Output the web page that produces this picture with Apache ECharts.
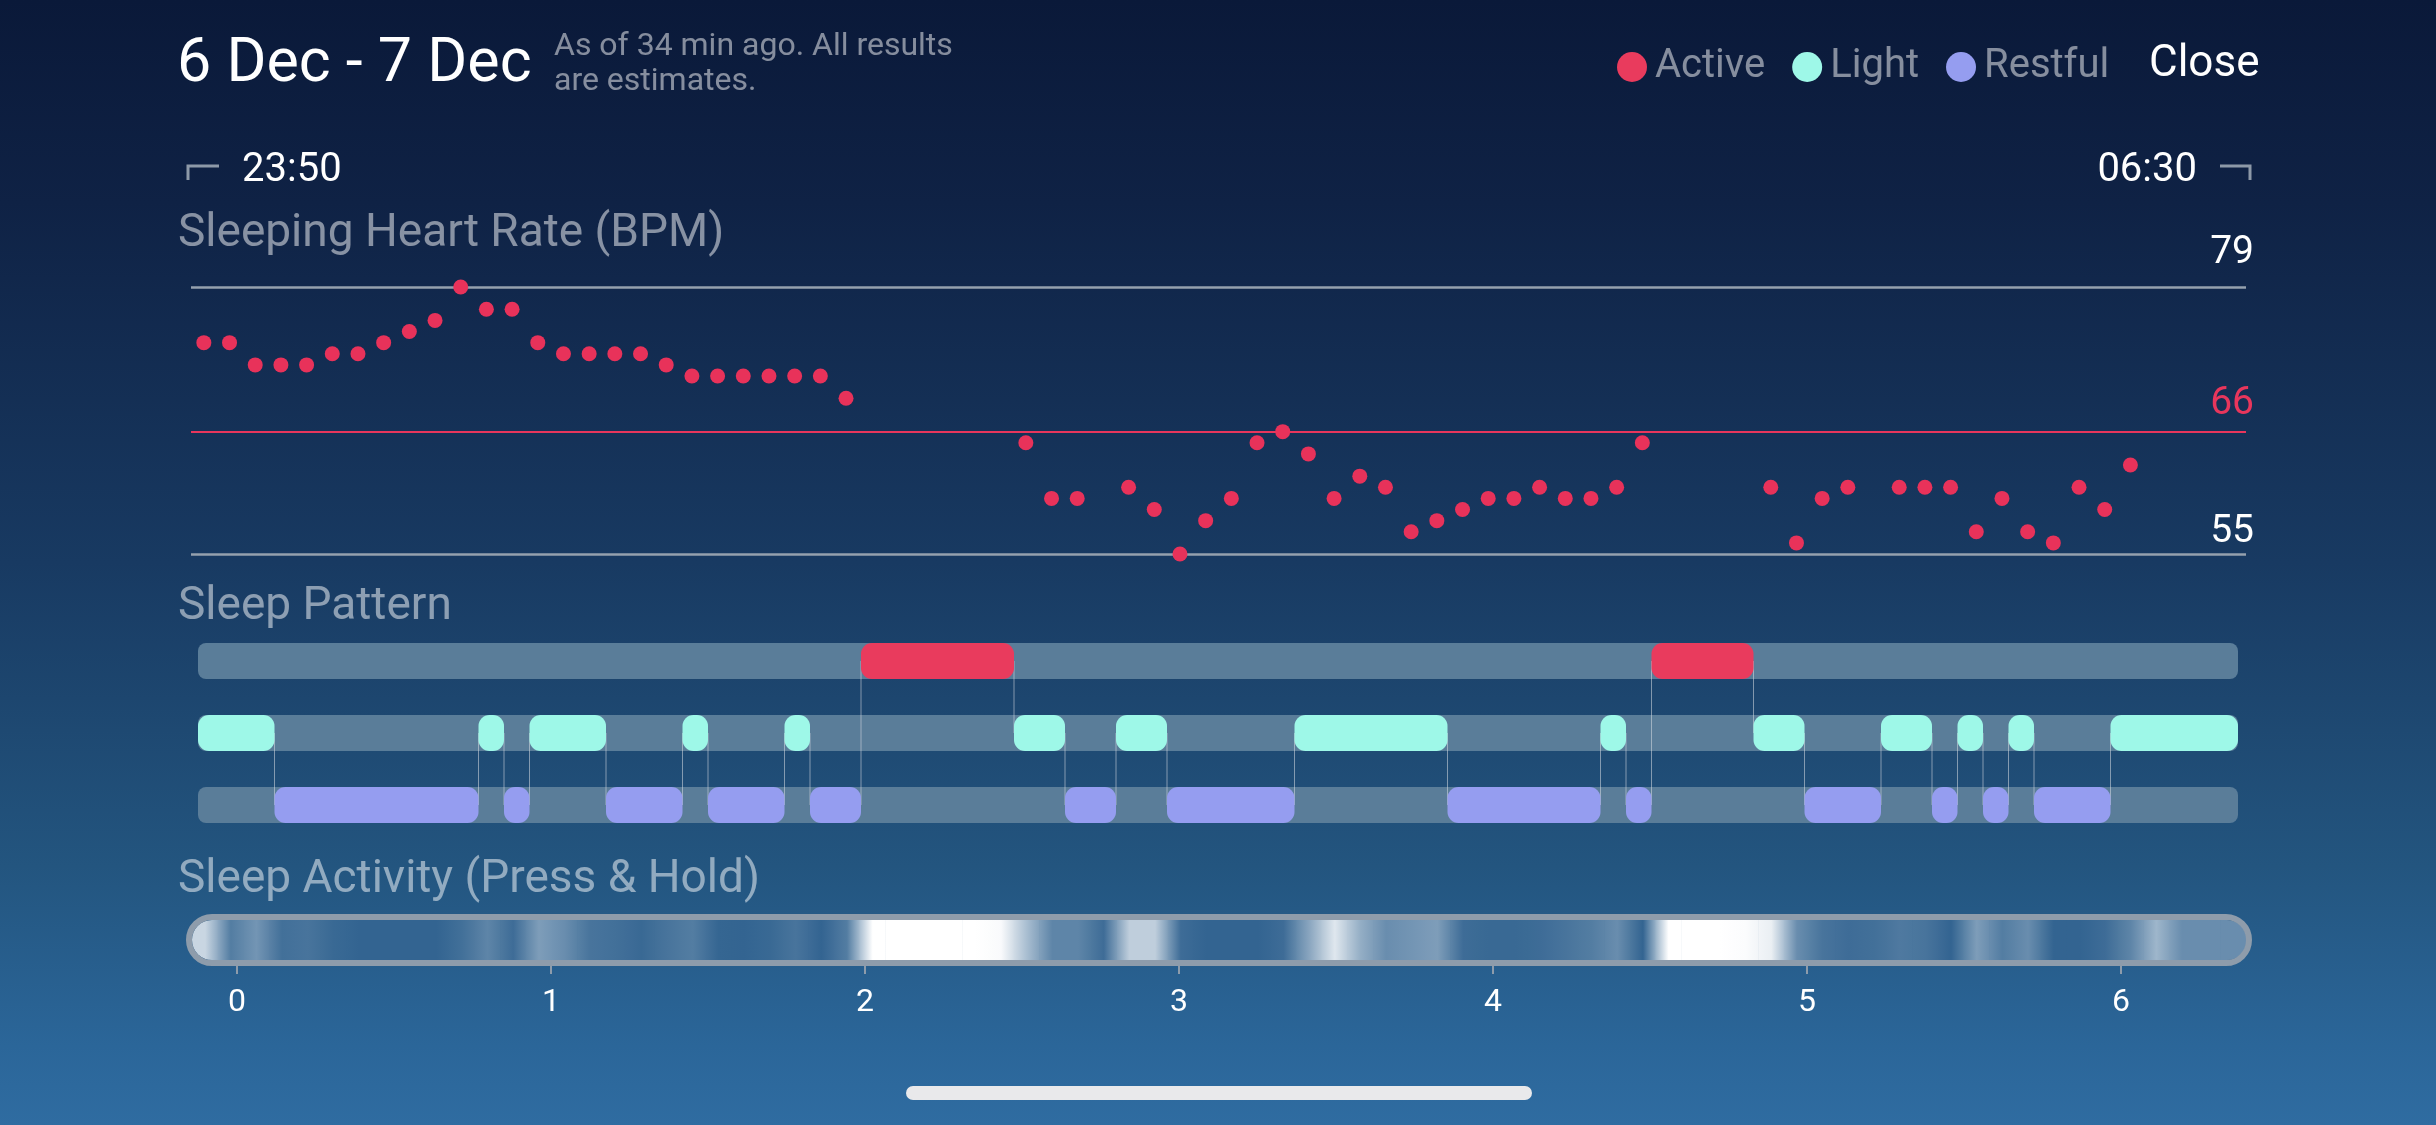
<!DOCTYPE html>
<html>
<head>
<meta charset="utf-8">
<title>Sleep 6 Dec - 7 Dec</title>
<script src="https://cdn.jsdelivr.net/npm/echarts@6/dist/echarts.min.js"></script>
<style>
  html, body { margin: 0; padding: 0; width: 2436px; height: 1125px; overflow: hidden; background: #0a1a3a; }
  #main { width: 2436px; height: 1125px; }
</style>
</head>
<body>
<div id="main"></div>
<script>
// night runs 23:50 -> 06:30, i.e. 400 minutes
var nightMinutes = 400;
var binMinutes = 5;

// sleeping heart rate, one reading per 5 min bin (null = no reading)
var hrValues = [74, 74, 72, 72, 72, 73, 73, 74, 75, 76, 79, 77, 77, 74, 73, 73, 73, 73, 72, 71, 71, 71, 71, 71, 71, 69,
  null, null, null, null, null, null,
  65, 60, 60, null, 61, 59, 55, 58, 60, 65, 66, 64, 60, 62, 61, 57, 58, 59, 60, 60, 61, 60, 60, 61, 65,
  null, null, null, null,
  61, 56, 60, 61, null, 61, 61, 61, 57, 60, 57, 56, 61, 59, 63,
  null, null, null, null];
var hrLines = [79, 66, 55];

// sleep pattern (minutes since 23:50)
var stageNames = ['Active', 'Light', 'Restful'];
var stageStart = [0, 15, 55, 60, 65, 80, 95, 100, 115, 120, 130, 160, 170, 180, 190, 215, 245, 275, 280, 285, 305, 315, 330, 340, 345, 350, 355, 360, 375];
var stageEnd = [15, 55, 60, 65, 80, 95, 100, 115, 120, 130, 160, 170, 180, 190, 215, 245, 275, 280, 285, 305, 315, 330, 340, 345, 350, 355, 360, 375, 400];
var stageOf = ['Light', 'Restful', 'Light', 'Restful', 'Light', 'Restful', 'Light', 'Restful', 'Light', 'Restful',
  'Active', 'Light', 'Restful', 'Light', 'Restful', 'Light', 'Restful', 'Light', 'Restful',
  'Active', 'Light', 'Restful', 'Light', 'Restful', 'Light', 'Restful', 'Light', 'Restful', 'Light'];

// sleep activity intensity per 5 min bin (0 = still, 1 = moving)
var activity = [0.75, 0.2, 0.35, 0.12, 0.15, 0.08, 0.05, 0.05, 0.05, 0.05,
  0.12, 0.25, 0.1, 0.4, 0.3, 0.15, 0.12, 0.08, 0.15, 0.2,
  0.06, 0.05, 0.08, 0.15, 0.05, 0.2, 1, 1, 1, 1,
  1, 0.97, 0.6, 0.25, 0.25, 0.1, 0.7, 0.7, 0.1, 0.05,
  0.05, 0.05, 0.1, 0.45, 0.85, 0.5, 0.3, 0.35, 0.4, 0.1,
  0.08, 0.08, 0.1, 0.15, 0.2, 0.3, 0.05, 1, 1, 1,
  0.98, 0.9, 0.3, 0.15, 0.1, 0.12, 0.18, 0.15, 0.05, 0.4,
  0.2, 0.3, 0.05, 0.05, 0.1, 0.25, 0.55, 0.3, 0.3, 0.3];
var hourTicks = [0, 6];

var FONT = 'Roboto, "Noto Sans", sans-serif';
var DIM = 'rgba(255,255,255,0.5)';
var stageColors = { Active: '#e93b5d', Light: '#9ef8e8', Restful: '#959df0' };
var hrLineColors = ['#95a1ae', '#e8365c', '#95a1ae'];
var hrLabelColors = ['#ffffff', '#e8365c', '#ffffff'];
var hrLabelGaps = [14, 8, 2];

var chart = echarts.init(document.getElementById('main'));

function stageRow(name) { return stageNames.indexOf(name); }

var hrData = [];
hrValues.forEach(function (v, i) {
  if (v !== null) hrData.push([binMinutes / 2 + binMinutes * i, v]);
});

var segData = { Active: [], Light: [], Restful: [] };
for (var i = 0; i < stageStart.length; i++) {
  segData[stageOf[i]].push([stageStart[i], stageEnd[i], stageRow(stageOf[i])]);
}
var links = [];
for (i = 1; i < stageStart.length; i++) {
  links.push([stageStart[i], stageRow(stageOf[i - 1]), stageRow(stageOf[i])]);
}
var rowBars = stageNames.map(function (n, k) { return [0, nightMinutes, k]; });
var activityData = activity.map(function (v, k) { return [k * binMinutes, (k + 1) * binMinutes, v]; });

function mix(v) {
  return 'rgb(' + Math.round(40 + 215 * v) + ',' + Math.round(92 + 163 * v) + ',' + Math.round(139 + 116 * v) + ')';
}

function rowRect(color, maxR) {
  return function (params, api) {
    var a = api.coord([api.value(0), api.value(2)]);
    var b = api.coord([api.value(1), api.value(2)]);
    var h = api.size([0, 0.5])[1];
    var w = b[0] - a[0];
    return {
      type: 'rect',
      shape: { x: a[0], y: a[1] - h / 2, width: w, height: h, r: Math.min(maxR, w / 2) },
      style: { fill: color }
    };
  };
}

var stageSeries = stageNames.map(function (name) {
  return {
    name: name,
    type: 'custom',
    xAxisIndex: 1, yAxisIndex: 1,
    z: 3,
    itemStyle: { color: stageColors[name] },
    encode: { x: [0, 1], y: 2 },
    renderItem: rowRect(stageColors[name], 11),
    data: segData[name]
  };
});

var option = {
  animation: false,
  backgroundColor: new echarts.graphic.LinearGradient(0, 0, 0, 1, [
    { offset: 0, color: '#0a1939' },
    { offset: 0.18, color: '#0f2245' },
    { offset: 0.5, color: '#183a62' },
    { offset: 0.77, color: '#23557f' },
    { offset: 0.93, color: '#2b6699' },
    { offset: 1, color: '#2f6ca1' }
  ]),
  textStyle: { fontFamily: FONT },
  legend: {
    data: stageNames,
    left: 1612, top: 42,
    icon: 'circle',
    itemWidth: 30, itemHeight: 30, itemGap: 27,
    selectedMode: false,
    textStyle: { color: DIM, fontSize: 40, fontFamily: FONT, padding: [0, 0, 0, 3] }
  },
  grid: [
    { left: 191, top: 287, width: 2055, height: 267 },
    { left: 198, top: 625, width: 2040, height: 216 },
    { left: 192, top: 920, width: 2054, height: 40 },
    { left: 237, top: 920, width: 1884, height: 40 }
  ],
  xAxis: [
    { gridIndex: 0, type: 'value', min: 0, max: nightMinutes, show: false },
    { gridIndex: 1, type: 'value', min: 0, max: nightMinutes, show: false },
    { gridIndex: 2, type: 'value', min: 0, max: nightMinutes, show: false },
    {
      gridIndex: 3, type: 'value', min: hourTicks[0], max: hourTicks[1], interval: 1,
      offset: 6,
      axisLine: { show: false },
      axisTick: { show: true, length: 14, lineStyle: { color: '#8e9cab', width: 2 } },
      axisLabel: { color: '#ffffff', fontSize: 32, margin: 21, fontFamily: FONT },
      splitLine: { show: false }
    }
  ],
  yAxis: [
    { gridIndex: 0, type: 'value', min: hrLines[2], max: hrLines[0], show: false },
    { gridIndex: 1, type: 'value', min: -0.5, max: 2.5, inverse: true, show: false },
    { gridIndex: 2, type: 'value', min: 0, max: 1, show: false },
    { gridIndex: 3, type: 'value', min: 0, max: 1, show: false }
  ],
  series: [
    {
      name: 'Heart Rate',
      type: 'scatter',
      xAxisIndex: 0, yAxisIndex: 0,
      z: 10,
      symbolSize: 15,
      itemStyle: { color: '#e8325a', opacity: 1 },
      data: hrData,
      markLine: {
        silent: true,
        z: 1,
        symbol: 'none',
        data: hrLines.map(function (v, k) {
          return {
            yAxis: v,
            lineStyle: { color: hrLineColors[k], width: k === 1 ? 2 : 2.5, type: 'solid' },
            label: {
              show: true, position: 'insideEndTop', formatter: String(v),
              color: hrLabelColors[k], fontSize: 39, fontFamily: FONT,
              distance: [-8, hrLabelGaps[k]]
            }
          };
        })
      }
    },
    {
      name: 'rows',
      type: 'custom',
      xAxisIndex: 1, yAxisIndex: 1,
      z: 1,
      silent: true,
      encode: { x: [0, 1], y: 2 },
      renderItem: rowRect('#5a7d99', 8),
      data: rowBars
    },
    {
      name: 'links',
      type: 'custom',
      xAxisIndex: 1, yAxisIndex: 1,
      z: 2,
      silent: true,
      encode: { x: 0, y: [1, 2] },
      renderItem: function (params, api) {
        var a = api.coord([api.value(0), api.value(1)]);
        var b = api.coord([api.value(0), api.value(2)]);
        return {
          type: 'line',
          shape: { x1: a[0], y1: a[1], x2: b[0], y2: b[1] },
          style: { stroke: 'rgba(215,220,225,0.55)', lineWidth: 1 }
        };
      },
      data: links
    }
  ].concat(stageSeries).concat([
    {
      name: 'activity',
      type: 'custom',
      xAxisIndex: 2, yAxisIndex: 2,
      z: 3,
      silent: true,
      encode: { x: [0, 1], y: 2 },
      renderItem: function (params, api) {
        var k = params.dataIndex;
        var v = api.value(2);
        var prev = k > 0 ? activity[k - 1] : v;
        var next = k < activity.length - 1 ? activity[k + 1] : v;
        var a = api.coord([api.value(0), 1]);
        var b = api.coord([api.value(1), 0]);
        var r = k === 0 ? [20, 0, 0, 20] : (k === activity.length - 1 ? [0, 20, 20, 0] : 0);
        return {
          type: 'rect',
          shape: { x: a[0], y: a[1], width: b[0] - a[0] + 0.6, height: b[1] - a[1], r: r },
          style: {
            fill: new echarts.graphic.LinearGradient(0, 0, 1, 0, [
              { offset: 0, color: mix((prev + v) / 2) },
              { offset: 0.5, color: mix(v) },
              { offset: 1, color: mix((v + next) / 2) }
            ])
          }
        };
      },
      data: activityData
    },
    {
      name: 'activityFrame',
      type: 'custom',
      xAxisIndex: 2, yAxisIndex: 2,
      z: 5,
      silent: true,
      encode: { x: [0, 1] },
      renderItem: function (params, api) {
        var a = api.coord([api.value(0), 1]);
        var b = api.coord([api.value(1), 0]);
        return {
          type: 'rect',
          shape: { x: a[0] - 3, y: a[1] - 3, width: b[0] - a[0] + 6, height: b[1] - a[1] + 6, r: 23 },
          style: { fill: null, stroke: '#8e9cab', lineWidth: 6 }
        };
      },
      data: [[0, nightMinutes]]
    }
  ]),
  graphic: [
    { type: 'text', left: 177, top: 35, style: { text: '6 Dec - 7 Dec', fill: '#ffffff', font: '61px ' + FONT } },
    { type: 'text', left: 554, top: 31, style: { text: 'As of 34 min ago. All results', fill: DIM, font: '32px ' + FONT } },
    { type: 'text', left: 554, top: 66, style: { text: 'are estimates.', fill: DIM, font: '32px ' + FONT } },
    { type: 'text', left: 2149, top: 43, style: { text: 'Close', fill: '#ffffff', font: '44px ' + FONT } },
    { type: 'polyline', shape: { points: [[188, 180], [188, 166], [219, 166]] }, style: { stroke: '#8d99a8', lineWidth: 3, fill: null } },
    { type: 'polyline', shape: { points: [[2220, 166], [2250, 166], [2250, 180]] }, style: { stroke: '#8d99a8', lineWidth: 3, fill: null } },
    { type: 'text', left: 242, top: 151, style: { text: '23:50', fill: '#ffffff', font: '40px ' + FONT } },
    { type: 'text', right: 2436 - 2197, top: 151, style: { text: '06:30', fill: '#ffffff', font: '40px ' + FONT } },
    { type: 'text', left: 178, top: 211, style: { text: 'Sleeping Heart Rate (BPM)', fill: DIM, font: '46px ' + FONT } },
    { type: 'text', left: 178, top: 584, style: { text: 'Sleep Pattern', fill: DIM, font: '46px ' + FONT } },
    { type: 'text', left: 178, top: 857, style: { text: 'Sleep Activity (Press & Hold)', fill: DIM, font: '46px ' + FONT } },
    { type: 'rect', left: 906, top: 1086, shape: { width: 626, height: 14, r: 7 }, style: { fill: '#e9e9eb' } }
  ]
};

option && chart.setOption(option);
</script>
</body>
</html>
